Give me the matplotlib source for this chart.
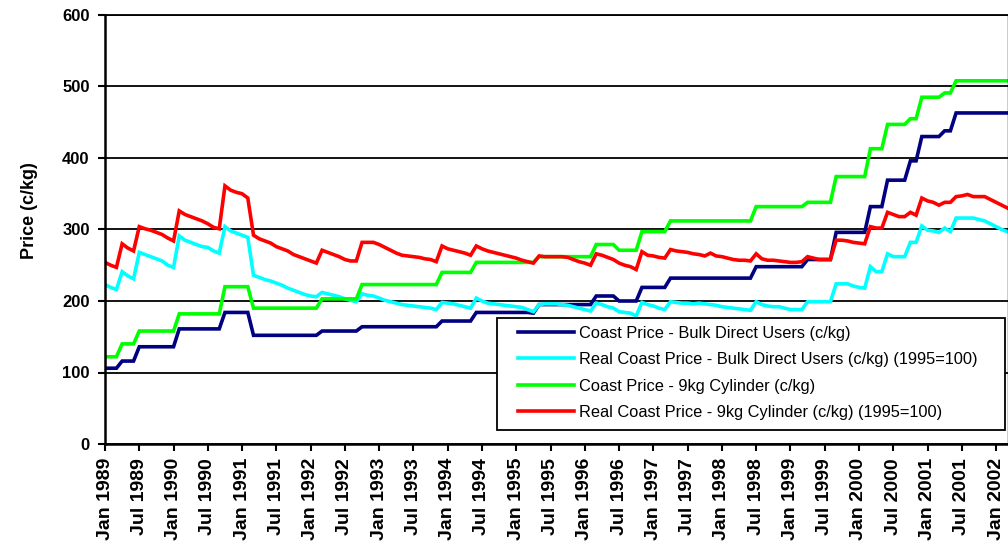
import matplotlib
matplotlib.use("Agg")
import matplotlib.pyplot as plt
from matplotlib.patches import Rectangle

plt.rcParams['font.family'] = ['Liberation Sans', 'DejaVu Sans']

month_names = ["Jan", "Feb", "Mar", "Apr", "May", "Jun",
               "Jul", "Aug", "Sep", "Oct", "Nov", "Dec"]
categories = [f"{m} {y}" for y in range(1989, 2003) for m in month_names][:159]
tick_labels = categories[::6]

series_names = [
    "Coast Price - Bulk Direct Users (c/kg)",
    "Real Coast Price - Bulk Direct Users (c/kg) (1995=100)",
    "Coast Price - 9kg Cylinder (c/kg)",
    "Real Coast Price - 9kg Cylinder (c/kg) (1995=100)",
]
series_colors = ["#000080", "#00FFFF", "#00FF00", "#FF0000"]

coast_bulk = [
    106, 106, 106, 116, 116, 116, 136, 136, 136, 136, 136, 136,
    136, 161, 161, 161, 161, 161, 161, 161, 161, 184, 184, 184,
    184, 184, 152, 152, 152, 152, 152, 152, 152, 152, 152, 152,
    152, 152, 158, 158, 158, 158, 158, 158, 158, 164, 164, 164,
    164, 164, 164, 164, 164, 164, 164, 164, 164, 164, 164, 172,
    172, 172, 172, 172, 172, 184, 184, 184, 184, 184, 184, 184,
    184, 184, 184, 183, 195, 195, 195, 195, 195, 195, 195, 195,
    195, 195, 207, 207, 207, 207, 200, 200, 200, 200, 219, 219,
    219, 219, 219, 232, 232, 232, 232, 232, 232, 232, 232, 232,
    232, 232, 232, 232, 232, 232, 248, 248, 248, 248, 248, 248,
    248, 248, 248, 258, 258, 258, 258, 258, 296, 296, 296, 296,
    296, 296, 332, 332, 332, 369, 369, 369, 369, 396, 396, 430,
    430, 430, 430, 438, 438, 463, 463, 463, 463, 463, 463, 463,
    463, 463, 463,
]

real_coast_bulk = [
    223, 219, 216, 241, 235, 231, 268, 265, 262, 259, 256, 250,
    247, 291, 285, 282, 279, 276, 275, 270, 267, 304, 298, 295,
    292, 289, 236, 233, 230, 228, 225, 222, 218, 215, 212, 209,
    207, 206, 212, 210, 208, 206, 203, 201, 199, 210, 208, 207,
    204, 201, 199, 197, 195, 194, 193, 192, 191, 190, 188, 198,
    197, 196, 194, 192, 190, 204, 200, 197, 196, 195, 194, 193,
    192, 191, 188, 185, 195, 196, 196, 196, 195, 194, 192, 190,
    188, 186, 197, 195, 192, 190, 185, 184, 183, 179, 198, 195,
    193, 190, 188, 199, 198, 197, 197, 196, 197, 196, 195, 194,
    192, 191, 190, 189, 188, 187, 199, 195, 193, 192, 192, 190,
    188, 188, 188, 199, 199, 199, 199, 199, 224, 224, 224, 221,
    219, 218, 248, 241, 241, 266, 262, 262, 262, 282, 282, 305,
    299, 298, 296, 302, 297, 316, 316, 316, 316, 314, 312, 308,
    304, 300, 297,
]

coast_9kg = [
    122, 122, 122, 140, 140, 140, 158, 158, 158, 158, 158, 158,
    158, 182, 182, 182, 182, 182, 182, 182, 182, 220, 220, 220,
    220, 220, 190, 190, 190, 190, 190, 190, 190, 190, 190, 190,
    190, 190, 203, 203, 203, 203, 203, 203, 203, 223, 223, 223,
    223, 223, 223, 223, 223, 223, 223, 223, 223, 223, 223, 240,
    240, 240, 240, 240, 240, 254, 254, 254, 254, 254, 254, 254,
    254, 254, 254, 254, 262, 262, 262, 262, 262, 262, 262, 262,
    262, 262, 279, 279, 279, 279, 271, 271, 271, 271, 297, 297,
    297, 297, 297, 312, 312, 312, 312, 312, 312, 312, 312, 312,
    312, 312, 312, 312, 312, 312, 332, 332, 332, 332, 332, 332,
    332, 332, 332, 338, 338, 338, 338, 338, 374, 374, 374, 374,
    374, 374, 413, 413, 413, 447, 447, 447, 447, 455, 455, 485,
    485, 485, 485, 491, 491, 508, 508, 508, 508, 508, 508, 508,
    508, 508, 508,
]

real_coast_9kg = [
    254, 250, 247, 280, 274, 270, 304, 301, 299, 296, 293, 288,
    284, 326, 321, 318, 315, 312, 308, 303, 301, 361, 355, 352,
    350, 344, 292, 287, 284, 281, 276, 273, 270, 265, 262, 259,
    256, 253, 271, 268, 265, 262, 258, 256, 256, 282, 282, 282,
    279, 275, 271, 267, 264, 263, 262, 261, 259, 258, 255, 277,
    273, 271, 269, 267, 264, 277, 273, 270, 268, 266, 264, 262,
    260, 257, 255, 253, 263, 262, 262, 262, 262, 261, 258, 255,
    253, 250, 266, 264, 261, 258, 253, 250, 248, 244, 269, 264,
    263, 261, 260, 272, 270, 269, 268, 266, 265, 263, 267, 263,
    262, 260, 258, 257, 257, 256, 266, 259, 257, 257, 256, 255,
    254, 254, 255, 262, 260, 258, 258, 258, 285, 285, 284, 282,
    281, 280, 304, 302, 302, 324, 321, 318, 318, 324, 320, 344,
    340, 338, 334, 338, 338, 346, 347, 349, 346, 346, 346, 342,
    338, 334, 330,
]

y_ticks = [0, 100, 200, 300, 400, 500, 600]

W, H = 1008, 558
fig = plt.figure(figsize=(W / 100, H / 100), dpi=100)
ax = fig.add_axes([105 / W, 114 / H, 902.5 / W, 429 / H])

x = list(range(len(categories)))
all_series = [coast_bulk, real_coast_bulk, coast_9kg, real_coast_9kg]
for vals, name, col in zip(all_series, series_names, series_colors):
    ax.plot(x, vals, color=col, lw=2.6, label=name, solid_joinstyle='miter', zorder=2)

ax.set_xlim(0, len(categories) - 1)
ax.set_ylim(0, 600)
ax.set_yticks(y_ticks)
ax.set_yticklabels([str(v) for v in y_ticks], fontsize=12, fontweight='bold')
tick_pos = list(range(0, len(categories), 6))
ax.set_xticks(tick_pos)
ax.set_xticklabels(tick_labels, rotation=90, fontsize=14, fontweight='bold')

ax.yaxis.grid(True, color='black', lw=1.3)
ax.set_axisbelow(True)
ax.tick_params(axis='both', direction='out', length=5, width=1.5, color='black')
ax.tick_params(axis='y', pad=6)
ax.tick_params(axis='x', pad=5)

for side in ['left', 'bottom']:
    ax.spines[side].set_linewidth(1.8)
    ax.spines[side].set_color('black')
ax.spines['top'].set_linewidth(1.3)
ax.spines['right'].set_linewidth(1.0)

ax.set_ylabel("Price (c/kg)", fontsize=13, fontweight='bold')
ax.yaxis.set_label_coords(-0.0742, 0.543)

# legend box
box = Rectangle((0.434, 0.033), 0.563, 0.261, transform=ax.transAxes,
                facecolor='white', edgecolor='black', lw=1.3, zorder=4)
ax.add_patch(box)
leg = ax.legend(loc='upper left', bbox_to_anchor=(0.4576, 0.276),
                frameon=False, borderpad=0, borderaxespad=0,
                handlelength=3.4, handletextpad=0.3, labelspacing=0.70,
                prop={'size': 11.8})
leg.set_zorder(5)

fig.savefig("out.png", dpi=100)
